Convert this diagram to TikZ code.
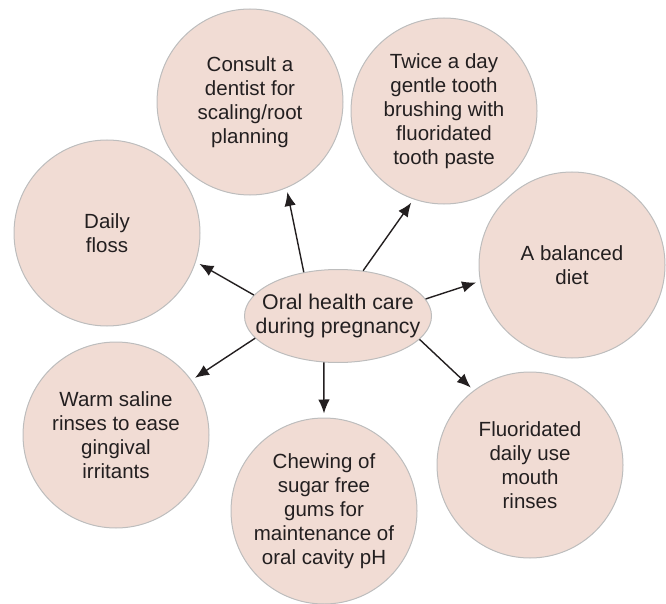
\documentclass[tikz,border=0pt]{standalone}
\usepackage{fontspec}
\setmainfont{Liberation Sans}
\usepackage{xcolor}
\usepackage{tikz}
\usetikzlibrary{arrows, arrows.meta, positioning, shapes.geometric}
\definecolor{mypink}{HTML}{F1DCD4}
\definecolor{mygray}{HTML}{BDBDBD}
\definecolor{mydark}{HTML}{231F20}
\tikzset{
  >=latex,  % default arrow tips
  % Bubbles around the centre
  bubble/.style={circle,draw=mygray,line width=1pt,fill=mypink,text=mydark,
    minimum size=186,inner sep=0,align=center,font=\fontsize{20.5}{24}\selectfont},
  hub/.style={ellipse,draw=mygray,line width=1pt,fill=mypink,text=mydark,
    minimum width=187,minimum height=93,inner xsep=-30,inner ysep=-15,align=center,
    font=\fontsize{21.3}{24}\selectfont},
  % Connections
  connect arrow/.style={-{Latex[length=14,width=11.5]},line width=1.4pt,mydark,shorten >=4}
}
\begin{document}
\begin{tikzpicture}[x=1pt,y=-1pt]
    \useasboundingbox (0,0) rectangle (666,604);
    % Outer bubbles
    \node[bubble] (consult) at (250,102) {Consult a\\dentist for\\scaling/root\\planning};
    \node[bubble] (brush) at (444,111) {Twice a day\\gentle tooth\\brushing with\\fluoridated\\tooth paste};
    \node[bubble] (floss) at (107,233) {Daily\\floss};
    \node[bubble] (diet) at (572,265) {A balanced\\diet};
    \node[bubble] (saline) at (116,435) {Warm saline\\rinses to ease\\gingival\\irritants};
    \node[bubble] (gums) at (324,511) {Chewing of\\sugar free\\gums for\\maintenance of\\oral cavity pH};
    \node[bubble] (rinse) at (530,465) {Fluoridated\\daily use\\mouth\\rinses};
    % Centre
    \node[hub] (care) at (338,316) {Oral health care\\during pregnancy};
    % Arrows
    \draw[connect arrow] (care.166) -- (floss.-18);
    \draw[connect arrow] (care.128) -- (consult.-67);
    \draw[connect arrow] (care.61) -- (brush.251);
    \draw[connect arrow] (care.11) -- (diet.190);
    \draw[connect arrow] (care.-16) -- (rinse.127);
    \draw[connect arrow] (care.-107) -- (gums.90);
    \draw[connect arrow] (care.195) -- (saline.36);
  \end{tikzpicture}
\end{document}
